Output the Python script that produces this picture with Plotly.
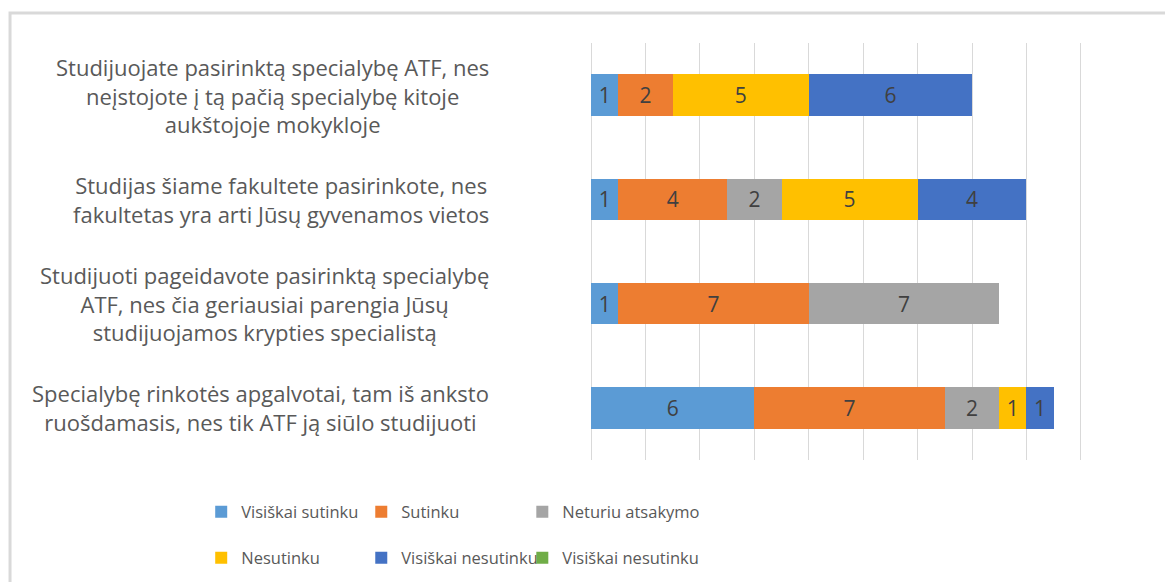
import plotly.graph_objects as go

# Survey statements (top to bottom) and answer counts per option.
categories = [
    "Studijuojate pasirinktą specialybę ATF, nes<br>neįstojote į tą pačią specialybę kitoje<br>aukštojoje mokykloje",
    "Studijas šiame fakultete pasirinkote, nes<br>fakultetas yra arti Jūsų gyvenamos vietos",
    "Studijuoti pageidavote pasirinktą specialybę<br>ATF, nes čia geriausiai parengia Jūsų<br>studijuojamos krypties specialistą",
    "Specialybę rinkotės apgalvotai, tam iš anksto<br>ruošdamasis, nes tik ATF ją siūlo studijuoti",
]
series_names = [
    "Visiškai sutinku",
    "Sutinku",
    "Neturiu atsakymo",
    "Nesutinku",
    "Visiškai nesutinku",
    "Visiškai nesutinku",
]
visiskai_sutinku = [1, 1, 1, 6]
sutinku = [2, 4, 7, 7]
neturiu_atsakymo = [None, 2, 7, 2]
nesutinku = [5, 5, None, 1]
visiskai_nesutinku = [6, 4, None, 1]
visiskai_nesutinku_2 = [None, None, None, None]

colors = ["#5B9BD5", "#ED7D31", "#A5A5A5", "#FFC000", "#4472C4", "#70AD47"]
values = [visiskai_sutinku, sutinku, neturiu_atsakymo, nesutinku,
          visiskai_nesutinku, visiskai_nesutinku_2]

FONT = "Open Sans"
fig = go.Figure()

for i, (name, vals, color) in enumerate(zip(series_names, values, colors)):
    fig.add_trace(
        go.Bar(
            y=categories,
            x=vals,
            name=name,
            orientation="h",
            marker=dict(color=color, line=dict(width=0)),
            text=[v if v is not None else "" for v in vals],
            textposition="inside",
            insidetextanchor="middle",
            textangle=0,
            textfont=dict(family=FONT, size=21, color="#404040"),
            legend="legend" if i == 0 else f"legend{i + 1}",
        )
    )

# Category labels, centred block right-aligned next to the plot
for cat in categories:
    fig.add_annotation(
        x=-0.198, xref="paper", y=cat, yref="y",
        text=cat, showarrow=False, xanchor="right", align="center",
        font=dict(family=FONT, size=22, color="#595959"),
    )

# Chart frame (top and left edges visible)
fig.add_shape(
    type="rect", xref="paper", yref="paper",
    x0=-1.172, x1=1.4, y0=-0.5, y1=1.072,
    line=dict(color="#d9d9d9", width=3), layer="below",
)

# one legend per entry so the 3x2 grid sits like the original
legend_style = dict(
    orientation="h", xanchor="left", yanchor="middle",
    font=dict(family=FONT, size=16.5, color="#595959"),
    bgcolor="rgba(0,0,0,0)", itemclick=False,
)
col_x = [-0.785, -0.461, -0.135]
row_y = [-0.125, -0.235]
legends = {}
for i in range(6):
    key = "legend" if i == 0 else f"legend{i + 1}"
    legends[key] = dict(x=col_x[i % 3], y=row_y[i // 3], **legend_style)

# page body has an 8px margin, so the figure is 8px smaller than the window
fig.update_layout(
    width=1165,
    height=574,
    barmode="stack",
    bargap=0.6,
    plot_bgcolor="white",
    paper_bgcolor="white",
    margin=dict(l=581, r=90, t=35, b=122, autoexpand=False),
    showlegend=True,
    xaxis=dict(
        range=[-0.08, 18.08], tick0=0, dtick=2, showticklabels=False,
        showgrid=True, gridcolor="#d9d9d9", gridwidth=1,
        zeroline=False, showline=False,
    ),
    yaxis=dict(
        autorange="reversed", showticklabels=False, showgrid=False,
        zeroline=False, showline=False,
    ),
    **legends,
)

fig.write_html("out.html")
